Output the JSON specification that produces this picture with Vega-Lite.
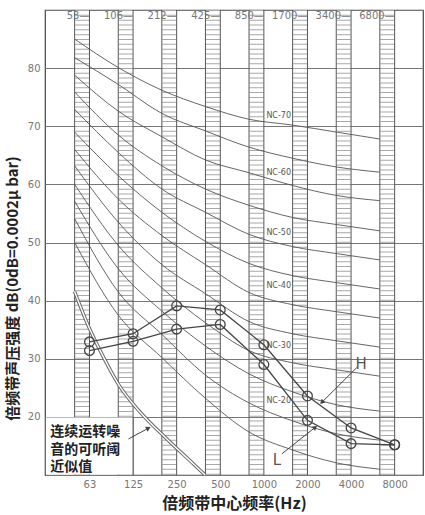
{
  "$schema": "https://vega.github.io/schema/vega-lite/v6.json",
  "width": 378,
  "height": 465,
  "autosize": {"type": "none"},
  "padding": {"left": 45, "top": 10, "right": 2, "bottom": 40},
  "background": "white",
  "config": {"view": {"stroke": "#444", "strokeWidth": 1.2}, "font": "DejaVu Sans"},
  "datasets": {
    "bands": [
      {"i": 0, "old": -0.34, "new": 0, "top": "53—"},
      {"i": 1, "old": 0.66, "new": 1, "top": "106—"},
      {"i": 2, "old": 1.66, "new": 2, "top": "212—"},
      {"i": 3, "old": 2.66, "new": 3, "top": "425—"},
      {"i": 4, "old": 3.66, "new": 4, "top": "850—"},
      {"i": 5, "old": 4.66, "new": 5, "top": "1700—"},
      {"i": 6, "old": 5.66, "new": 6, "top": "3400—"},
      {"i": 7, "old": 6.66, "new": 7, "top": "6800—"}
    ],
    "nc": [
      {"nc": "NC-70", "x": -0.34, "db": 85}, {"nc": "NC-70", "x": 0.66, "db": 80.1}, {"nc": "NC-70", "x": 1.66, "db": 76.2}, {"nc": "NC-70", "x": 2.66, "db": 73.4}, {"nc": "NC-70", "x": 3.66, "db": 71.2}, {"nc": "NC-70", "x": 4.66, "db": 70.2}, {"nc": "NC-70", "x": 5.66, "db": 69}, {"nc": "NC-70", "x": 6.66, "db": 67.8},
      {"nc": "NC-65", "x": -0.34, "db": 81.8}, {"nc": "NC-65", "x": 0.66, "db": 77.2}, {"nc": "NC-65", "x": 1.66, "db": 72.2}, {"nc": "NC-65", "x": 2.66, "db": 69.2}, {"nc": "NC-65", "x": 3.66, "db": 66.4}, {"nc": "NC-65", "x": 4.66, "db": 64.5}, {"nc": "NC-65", "x": 5.66, "db": 63}, {"nc": "NC-65", "x": 6.66, "db": 62.1},
      {"nc": "NC-60", "x": -0.34, "db": 78.8}, {"nc": "NC-60", "x": 0.66, "db": 72.6}, {"nc": "NC-60", "x": 1.66, "db": 68.2}, {"nc": "NC-60", "x": 2.66, "db": 64.2}, {"nc": "NC-60", "x": 3.66, "db": 62}, {"nc": "NC-60", "x": 4.66, "db": 59.8}, {"nc": "NC-60", "x": 5.66, "db": 58.1}, {"nc": "NC-60", "x": 6.66, "db": 57.2},
      {"nc": "NC-55", "x": -0.34, "db": 75.9}, {"nc": "NC-55", "x": 0.66, "db": 68.5}, {"nc": "NC-55", "x": 1.66, "db": 63.2}, {"nc": "NC-55", "x": 2.66, "db": 59.2}, {"nc": "NC-55", "x": 3.66, "db": 56.4}, {"nc": "NC-55", "x": 4.66, "db": 54.3}, {"nc": "NC-55", "x": 5.66, "db": 53.1}, {"nc": "NC-55", "x": 6.66, "db": 52},
      {"nc": "NC-50", "x": -0.34, "db": 72.9}, {"nc": "NC-50", "x": 0.66, "db": 65.5}, {"nc": "NC-50", "x": 1.66, "db": 59.2}, {"nc": "NC-50", "x": 2.66, "db": 55.2}, {"nc": "NC-50", "x": 3.66, "db": 51.4}, {"nc": "NC-50", "x": 4.66, "db": 49.3}, {"nc": "NC-50", "x": 5.66, "db": 48.1}, {"nc": "NC-50", "x": 6.66, "db": 47},
      {"nc": "NC-45", "x": -0.34, "db": 69}, {"nc": "NC-45", "x": 0.66, "db": 61.5}, {"nc": "NC-45", "x": 1.66, "db": 55.2}, {"nc": "NC-45", "x": 2.66, "db": 50.2}, {"nc": "NC-45", "x": 3.66, "db": 46.4}, {"nc": "NC-45", "x": 4.66, "db": 44.3}, {"nc": "NC-45", "x": 5.66, "db": 43.1}, {"nc": "NC-45", "x": 6.66, "db": 42},
      {"nc": "NC-40", "x": -0.34, "db": 66}, {"nc": "NC-40", "x": 0.66, "db": 57.5}, {"nc": "NC-40", "x": 1.66, "db": 51.2}, {"nc": "NC-40", "x": 2.66, "db": 46.2}, {"nc": "NC-40", "x": 3.66, "db": 41.4}, {"nc": "NC-40", "x": 4.66, "db": 39.3}, {"nc": "NC-40", "x": 5.66, "db": 38.1}, {"nc": "NC-40", "x": 6.66, "db": 37},
      {"nc": "NC-35", "x": -0.34, "db": 63.2}, {"nc": "NC-35", "x": 0.66, "db": 53.5}, {"nc": "NC-35", "x": 1.66, "db": 46.2}, {"nc": "NC-35", "x": 2.66, "db": 41.2}, {"nc": "NC-35", "x": 3.66, "db": 36.4}, {"nc": "NC-35", "x": 4.66, "db": 34.3}, {"nc": "NC-35", "x": 5.66, "db": 33.1}, {"nc": "NC-35", "x": 6.66, "db": 32},
      {"nc": "NC-30", "x": -0.34, "db": 60}, {"nc": "NC-30", "x": 0.66, "db": 49.5}, {"nc": "NC-30", "x": 1.66, "db": 42.2}, {"nc": "NC-30", "x": 2.66, "db": 36.2}, {"nc": "NC-30", "x": 3.66, "db": 31.4}, {"nc": "NC-30", "x": 4.66, "db": 29.3}, {"nc": "NC-30", "x": 5.66, "db": 28.1}, {"nc": "NC-30", "x": 6.66, "db": 27},
      {"nc": "NC-25", "x": -0.34, "db": 57.1}, {"nc": "NC-25", "x": 0.66, "db": 45.5}, {"nc": "NC-25", "x": 1.66, "db": 38.2}, {"nc": "NC-25", "x": 2.66, "db": 32.2}, {"nc": "NC-25", "x": 3.66, "db": 27.4}, {"nc": "NC-25", "x": 4.66, "db": 24.3}, {"nc": "NC-25", "x": 5.66, "db": 22.1}, {"nc": "NC-25", "x": 6.66, "db": 21},
      {"nc": "NC-20", "x": -0.34, "db": 54.1}, {"nc": "NC-20", "x": 0.66, "db": 41.5}, {"nc": "NC-20", "x": 1.66, "db": 34.2}, {"nc": "NC-20", "x": 2.66, "db": 27.2}, {"nc": "NC-20", "x": 3.66, "db": 22.4}, {"nc": "NC-20", "x": 4.66, "db": 19.3}, {"nc": "NC-20", "x": 5.66, "db": 17.1}, {"nc": "NC-20", "x": 6.66, "db": 16},
      {"nc": "NC-15", "x": -0.34, "db": 50}, {"nc": "NC-15", "x": 0.66, "db": 37.5}, {"nc": "NC-15", "x": 1.66, "db": 30.2}, {"nc": "NC-15", "x": 2.66, "db": 23.2}, {"nc": "NC-15", "x": 3.66, "db": 17.4}, {"nc": "NC-15", "x": 4.66, "db": 14.3}, {"nc": "NC-15", "x": 5.66, "db": 12.1}, {"nc": "NC-15", "x": 6.66, "db": 11}
    ],
    "nclab": [
      {"t": "NC-70", "x": 4.34, "db": 71.7},
      {"t": "NC-60", "x": 4.34, "db": 62.0},
      {"t": "NC-50", "x": 4.34, "db": 51.7},
      {"t": "NC-40", "x": 4.34, "db": 42.5},
      {"t": "NC-30", "x": 4.34, "db": 32.2},
      {"t": "NC-20", "x": 4.34, "db": 22.8}
    ],
    "thr": [
      {"x": -0.344, "db": 41.6}, {"x": 0, "db": 35.2}, {"x": 0.245, "db": 31.4}, {"x": 0.665, "db": 25.6},
      {"x": 1.163, "db": 20.8}, {"x": 1.775, "db": 16.2}, {"x": 2.385, "db": 11.9}, {"x": 2.654, "db": 10}
    ],
    "meas": [
      {"s": "H", "x": 0, "db": 32.9}, {"s": "H", "x": 1, "db": 34.3}, {"s": "H", "x": 2, "db": 39.1}, {"s": "H", "x": 3, "db": 38.4},
      {"s": "H", "x": 4, "db": 32.4}, {"s": "H", "x": 5, "db": 23.6}, {"s": "H", "x": 6, "db": 18.1}, {"s": "H", "x": 7, "db": 15.2},
      {"s": "L", "x": 0, "db": 31.4}, {"s": "L", "x": 1, "db": 33.0}, {"s": "L", "x": 2, "db": 35.1}, {"s": "L", "x": 3, "db": 35.9},
      {"s": "L", "x": 4, "db": 29.0}, {"s": "L", "x": 5, "db": 19.4}, {"s": "L", "x": 6, "db": 15.4}, {"s": "L", "x": 7, "db": 15.2}
    ],
    "leaders": [
      {"k": "note", "x": 0.894, "db": 16.2, "x2": 1.353, "db2": 18.06},
      {"k": "H", "x": 6.133, "db": 28.5, "x2": 5.33, "db2": 22.5},
      {"k": "L", "x": 4.413, "db": 13.65, "x2": 5.177, "db2": 18.2}
    ],
    "tags": [
      {"t": "H", "x": 6.23, "db": 29.1},
      {"t": "L", "x": 4.30, "db": 12.5}
    ],
    "note": [{"t": "连续运转噪\n音的可听阈\n近似值", "x": -0.9, "db": 18.6}]
  },
  "layer": [
    {
      "data": {"name": "bands"},
      "mark": {"type": "rule", "strokeWidth": 14, "strokeDash": [1, 3.83], "color": "#a8a8a8", "xOffset": 7.5},
      "encoding": {
        "x": {"field": "old", "type": "quantitative", "scale": {"domain": [-1.02, 7.65], "nice": false, "zero": false},
          "axis": {"values": [0, 1, 2, 3, 4, 5, 6, 7],
            "labelExpr": "['63','125','250','500','1000','2000','4000','8000'][datum.value]",
            "grid": false, "ticks": false, "domain": false, "labelColor": "#777", "labelFontSize": 10, "labelPadding": 4,
            "title": "倍频带中心频率(Hz)", "titleFont": "Noto Sans CJK SC", "titleFontSize": 16, "titleFontWeight": "bold", "titleColor": "#222", "titlePadding": 6}},
        "y": {"datum": 90, "type": "quantitative", "scale": {"domain": [10, 90], "nice": false, "zero": false},
          "axis": {"values": [10, 15, 20, 25, 30, 35, 40, 45, 50, 55, 60, 65, 70, 75, 80, 85, 90],
            "labelExpr": "datum.value % 10 == 0 && datum.value > 10 && datum.value < 90 ? datum.label : ''",
            "grid": true, "gridColor": "#777", "gridWidth": 1, "ticks": false, "domain": false,
            "labelColor": "#777", "labelFontSize": 10, "labelPadding": 5,
            "title": "倍频带声压强度  dB(0dB=0.0002μ bar)", "titleFont": "Noto Sans CJK SC", "titleFontSize": 15, "titleFontWeight": "bold", "titleColor": "#222", "titlePadding": 7, "titleY": 278}},
        "y2": {"datum": 10}
      }
    },
    {
      "data": {"name": "bands"},
      "mark": {"type": "rule", "color": "#555", "strokeWidth": 1},
      "encoding": {"x": {"field": "old", "type": "quantitative"}, "y": {"datum": 90, "type": "quantitative"}, "y2": {"datum": 10}}
    },
    {
      "data": {"name": "bands"},
      "mark": {"type": "rule", "color": "#555", "strokeWidth": 1},
      "encoding": {"x": {"field": "new", "type": "quantitative"}, "y": {"datum": 90, "type": "quantitative"}, "y2": {"datum": 10}}
    },
    {
      "data": {"values": [{"a": 1}]},
      "mark": {"type": "rect", "color": "white"},
      "encoding": {"x": {"datum": -1.0, "type": "quantitative"}, "x2": {"datum": 1}, "y": {"datum": 10.1, "type": "quantitative"}, "y2": {"datum": 19.9}}
    },
    {
      "data": {"name": "bands"},
      "transform": [{"filter": "datum.i == 1"}],
      "mark": {"type": "rule", "color": "#555", "strokeWidth": 1},
      "encoding": {"x": {"field": "new", "type": "quantitative"}, "y": {"datum": 20, "type": "quantitative"}, "y2": {"datum": 10}}
    },
    {
      "data": {"name": "bands"},
      "mark": {"type": "text", "align": "right", "baseline": "middle", "fontSize": 10, "color": "#777"},
      "encoding": {"x": {"field": "new", "type": "quantitative"}, "y": {"datum": 89, "type": "quantitative"}, "text": {"field": "top"}}
    },
    {
      "data": {"name": "nc"},
      "mark": {"type": "line", "color": "#555", "strokeWidth": 0.9, "interpolate": "monotone"},
      "encoding": {"x": {"field": "x", "type": "quantitative"}, "y": {"field": "db", "type": "quantitative"}, "detail": {"field": "nc"}}
    },
    {
      "data": {"name": "nclab"},
      "mark": {"type": "point", "shape": "M-1,-0.3L1,-0.3L1,0.3L-1,0.3Z", "size": 144, "filled": true, "color": "white", "opacity": 1},
      "encoding": {"x": {"field": "x", "type": "quantitative"}, "y": {"field": "db", "type": "quantitative"}}
    },
    {
      "data": {"name": "nclab"},
      "mark": {"type": "text", "fontSize": 8, "color": "#555", "baseline": "middle", "align": "center"},
      "encoding": {"x": {"field": "x", "type": "quantitative"}, "y": {"field": "db", "type": "quantitative"}, "text": {"field": "t"}}
    },
    {
      "data": {"name": "thr"},
      "mark": {"type": "line", "color": "#666", "strokeWidth": 3.4, "interpolate": "monotone"},
      "encoding": {"x": {"field": "x", "type": "quantitative"}, "y": {"field": "db", "type": "quantitative"}}
    },
    {
      "data": {"name": "thr"},
      "mark": {"type": "line", "color": "white", "strokeWidth": 1.4, "interpolate": "monotone"},
      "encoding": {"x": {"field": "x", "type": "quantitative"}, "y": {"field": "db", "type": "quantitative"}}
    },
    {
      "data": {"name": "leaders"},
      "mark": {"type": "rule", "color": "#444", "strokeWidth": 1},
      "encoding": {"x": {"field": "x", "type": "quantitative"}, "y": {"field": "db", "type": "quantitative"}, "x2": {"field": "x2"}, "y2": {"field": "db2"}}
    },
    {
      "data": {"name": "leaders"},
      "transform": [{"filter": "datum.k == 'note'"}],
      "mark": {"type": "point", "shape": "triangle-up", "filled": true, "size": 30, "angle": 62, "color": "#444", "opacity": 1},
      "encoding": {"x": {"field": "x2", "type": "quantitative"}, "y": {"field": "db2", "type": "quantitative"}}
    },
    {
      "data": {"name": "leaders"},
      "transform": [{"filter": "datum.k == 'H'"}],
      "mark": {"type": "point", "shape": "triangle-up", "filled": true, "size": 30, "angle": 225, "color": "#444", "opacity": 1},
      "encoding": {"x": {"field": "x2", "type": "quantitative"}, "y": {"field": "db2", "type": "quantitative"}}
    },
    {
      "data": {"name": "leaders"},
      "transform": [{"filter": "datum.k == 'L'"}],
      "mark": {"type": "point", "shape": "triangle-up", "filled": true, "size": 30, "angle": 51, "color": "#444", "opacity": 1},
      "encoding": {"x": {"field": "x2", "type": "quantitative"}, "y": {"field": "db2", "type": "quantitative"}}
    },
    {
      "data": {"name": "meas"},
      "mark": {"type": "line", "color": "#444", "strokeWidth": 1.3},
      "encoding": {"x": {"field": "x", "type": "quantitative"}, "y": {"field": "db", "type": "quantitative"}, "detail": {"field": "s"}}
    },
    {
      "data": {"name": "meas"},
      "mark": {"type": "point", "filled": false, "size": 95, "color": "#444", "strokeWidth": 1.3, "opacity": 1},
      "encoding": {"x": {"field": "x", "type": "quantitative"}, "y": {"field": "db", "type": "quantitative"}}
    },
    {
      "data": {"name": "tags"},
      "mark": {"type": "text", "fontSize": 15, "color": "#555", "font": "DejaVu Sans", "baseline": "middle", "align": "center"},
      "encoding": {"x": {"field": "x", "type": "quantitative"}, "y": {"field": "db", "type": "quantitative"}, "text": {"field": "t"}}
    },
    {
      "data": {"name": "note"},
      "mark": {"type": "text", "fontSize": 14, "font": "Noto Sans CJK SC", "fontWeight": "bold", "color": "#222", "align": "left", "baseline": "top", "lineBreak": "\n", "lineHeight": 17.5},
      "encoding": {"x": {"field": "x", "type": "quantitative"}, "y": {"field": "db", "type": "quantitative"}, "text": {"field": "t"}}
    }
  ]
}
